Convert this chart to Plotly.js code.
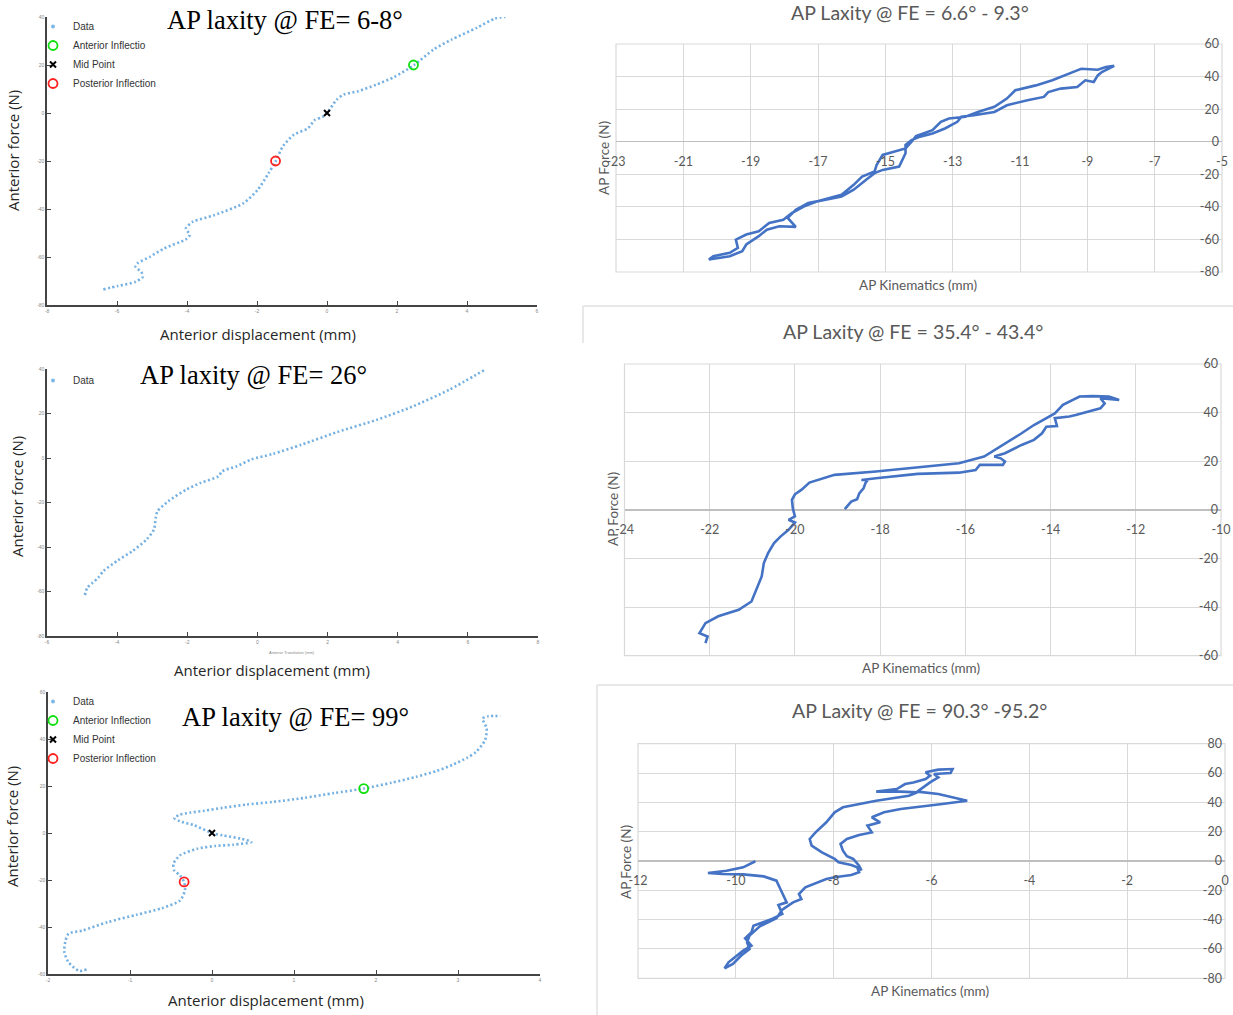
<!DOCTYPE html>
<html><head><meta charset="utf-8">
<script src="https://cdn.plot.ly/plotly-3.0.1.min.js"></script>
<style>html,body{margin:0;padding:0;background:#fff}#chart{width:1233px;height:1015px}</style>
</head><body><div id="chart"></div>
<script>
// ---------- Panel 1: AP laxity @ FE= 6-8° (MATLAB) ----------
const p1X = [-6.39,-5.98,-5.47,-5.26,-5.31,-5.47,-5.42,-5.06,-4.65,-4.03,-3.92,-4.03,-3.83,-3.21,-2.39,-1.98,-1.67,-1.47,-1.26,-0.95,-0.54,-0.34,-0.13,0,0.28,0.48,0.89,1.41,1.92,2.48,3.05,3.56,4.28,4.79,5.10];
const p1Y = [-73.5,-72.1,-70.3,-68.2,-66.2,-64.1,-62.7,-59.9,-56.4,-52.6,-50.8,-48.1,-45.3,-42.5,-37.6,-32.0,-25.1,-20.2,-13.9,-9.1,-6.3,-2.8,-1.7,0,5.6,7.7,9.1,11.8,15.0,19.9,26.5,30.6,35.5,39.3,40.1];
const p1AntX = [2.47], p1AntY = [20];
const p1MidX = [0], p1MidY = [0];
const p1PostX = [-1.47], p1PostY = [-20];
const p1XTicks = [-8,-6,-4,-2,0,2,4,6];
const p1YTicks = [-80,-60,-40,-20,0,20,40];

// ---------- Panel 2: AP laxity @ FE= 26° (MATLAB) ----------
const p2X = [-4.92,-4.85,-4.70,-4.54,-4.39,-3.98,-3.57,-3.16,-2.95,-2.90,-2.85,-2.54,-2.03,-1.62,-1.11,-1.01,-0.59,-0.18,0.43,1.26,2.28,3.41,4.43,5.46,6.48];
const p2Y = [-61.6,-58.3,-56.1,-53.8,-50.8,-46.0,-41.9,-36.6,-32.1,-26.9,-23.9,-19.4,-14.2,-11.2,-8.2,-6.0,-3.7,-0.7,1.8,6.0,11.7,17.2,23.2,30.6,39.6];
const p2XTicks = [-6,-4,-2,0,2,4,6,8];
const p2YTicks = [-80,-60,-40,-20,0,20,40];

// ---------- Panel 3: AP laxity @ FE= 99° (MATLAB) ----------
const p3X = [-1.53,-1.62,-1.75,-1.80,-1.79,-1.75,-1.58,-1.27,-0.92,-0.61,-0.39,-0.33,-0.34,-0.39,-0.46,-0.47,-0.39,-0.18,0.04,0.26,0.48,0.35,0.13,0,-0.22,-0.39,-0.46,-0.39,-0.26,-0.09,0.13,0.42,0.74,1.12,1.49,1.85,2.19,2.49,2.74,2.94,3.11,3.22,3.33,3.35,3.30,3.37,3.52];
const p3Y = [-58.1,-58.7,-55.0,-50.7,-46.4,-42.9,-41.5,-37.9,-34.8,-32.0,-28.7,-24.4,-20.9,-18.0,-15.9,-13.1,-9.5,-6.7,-5.5,-5.0,-3.8,-2.4,-1.0,0,3.3,5.0,6.4,7.8,8.7,9.5,10.7,12.1,13.2,14.9,17.0,18.9,21.4,23.9,26.4,29.1,32.0,34.5,39.5,44.5,48.7,49.7,49.7];
const p3AntX = [1.85], p3AntY = [18.9];
const p3MidX = [0], p3MidY = [0];
const p3PostX = [-0.34], p3PostY = [-20.8];
const p3XTicks = [-2,-1,0,1,2,3,4];
const p3YTicks = [-60,-40,-20,0,20,40,60];

// ---------- Panel 4: AP Laxity @ FE = 6.6° - 9.3° (Excel) ----------
const p4X = [-8.20,-8.57,-8.69,-8.81,-9.06,-9.30,-9.79,-10.16,-10.29,-10.78,-11.39,-11.76,-12.37,-12.74,-12.86,-13.23,-13.60,-13.97,-14.22,-14.40,-14.40,-14.59,-15.08,-15.32,-15.57,-15.94,-16.30,-16.80,-17.29,-17.66,-17.90,-17.66,-18.15,-18.52,-18.76,-19.13,-19.25,-19.62,-20.24,
  -20.11,-19.62,-19.38,-19.44,-19.13,-18.76,-18.45,-18.03,-17.78,-17.41,-17.04,-16.30,-15.94,-15.69,-15.32,-15.26,-15.08,-14.71,-14.40,-14.22,-14.09,-13.60,-13.35,-13.11,-12.62,-12.25,-11.76,-11.39,-11.14,-10.53,-10.04,-9.30,-9.18,-8.69,-8.45,-8.20];
const p4Y = [46.6,42.8,40.7,36.7,37.7,33.6,32.6,30.5,27.5,25.5,22.4,18.3,16.3,15.3,12.2,8.1,5.1,3.1,1.0,-2.0,-7.1,-15.3,-17.3,-19.3,-23.4,-29.5,-33.6,-35.6,-37.7,-41.8,-46.8,-52.3,-51.9,-54.0,-58.0,-63.1,-67.2,-70.3,-72.3,
  -70.3,-68.2,-65.2,-60.1,-57.0,-55.0,-49.9,-47.9,-43.8,-39.7,-36.7,-32.6,-26.5,-21.4,-18.3,-14.3,-8.1,-6.1,-4.1,0,3.5,7.1,12.2,14.3,15.3,18.3,21.4,26.5,31.6,34.6,37.7,43.8,44.8,44.2,45.8,46.6];
const p4XTicks = [-23,-21,-19,-17,-15,-13,-11,-9,-7,-5];
const p4YTicks = [-80,-60,-40,-20,0,20,40,60];

// ---------- Panel 5: AP Laxity @ FE = 35.4° - 43.4° (Excel) ----------
const p5X = [-18.83,-18.68,-18.54,-18.49,-18.39,-18.34,-18.29,-18.44,-18.10,-17.12,-16.15,-15.76,-15.66,-15.12,-15.07,-15.17,-15.32,-15.07,-14.68,-14.39,-14.20,-14.10,-13.85,-13.90,-13.56,-13.41,-12.83,-12.73,-12.83,-12.39,-12.63,-13.02,-13.32,-13.71,-13.90,-14.10,-14.39,-14.68,-15.17,-15.56,-16.15,-17.12,-18.10,-19.07,-19.66,-19.85,-20.00,-20.07,-20.05,-20.00,-20.15,-20.00,-20.15,-20.34,-20.49,-20.63,-20.73,-20.78,-20.88,-20.98,-21.02,-21.32,-21.80,-22.10,-22.20,-22.24,-22.05,-22.10];
const p5Y = [0.3,3.4,4.4,6.8,8.9,11.2,12.3,12.3,13.0,14.8,15.3,16.4,18.5,18.5,19.9,21.2,21.9,23.3,26.7,28.8,31.5,34.2,34.5,37.7,38.4,39.0,41.8,43.8,45.9,45.2,46.6,46.8,46.6,43.2,39.7,37.7,34.9,31.5,26.0,21.9,19.2,17.5,15.8,14.4,11.2,8.2,6.4,4.1,0.7,-2.7,-4.1,-5.2,-8.2,-11.0,-13.7,-17.8,-21.9,-27.4,-31.5,-35.6,-37.7,-41.1,-43.8,-46.6,-49.3,-50.7,-52.1,-54.8];
const p5XTicks = [-24,-22,-20,-18,-16,-14,-12,-10];
const p5YTicks = [-60,-40,-20,0,20,40,60];

// ---------- Panel 6: AP Laxity @ FE = 90.3° -95.2° (Excel) ----------
const p6X = [-9.60,-9.85,-10.19,-10.57,-10.28,-9.85,-9.43,-9.17,-9.09,-9.00,-8.96,-9.13,-9.05,-9.26,-9.64,-9.68,-9.81,-9.68,-9.85,-10.02,-10.15,-10.23,
  -10.06,-9.89,-9.72,-9.77,-9.72,-9.51,-9.34,-9.17,-9.05,-8.83,-8.66,-8.71,-8.58,-8.32,-8.15,-7.98,-7.64,-7.48,-7.52,-7.64,-7.90,-7.98,-8.24,-8.45,-8.49,-8.37,-8.15,-7.98,-7.81,-7.13,-6.46,-6.29,-6.63,-7.13,-6.71,-6.54,-6.37,-6.12,-6.03,-6.12,-5.86,-5.57,-5.61,-5.95,-5.86,-6.03,-6.20,-6.29,
  -5.86,-5.27,-5.78,-6.63,-6.97,-7.22,-7.05,-7.31,-7.22,-7.48,-7.73,-7.86,-7.81,-7.73,-7.60,-7.48,-7.43];
const p6Y = [-0.2,-4.3,-6.6,-8.2,-8.9,-9.1,-10.5,-13.4,-19.1,-25.9,-28.2,-30.0,-36.1,-39.5,-44.1,-48.6,-52.7,-57.7,-61.1,-65.7,-69.1,-73.2,
  -70.2,-64.5,-60.0,-55.5,-50.9,-44.5,-41.8,-39.1,-33.2,-28.2,-25.9,-22.5,-18.0,-14.5,-12.3,-11.1,-9.5,-7.7,-4.3,-2.7,-0.9,1.4,5.9,10.5,15.0,19.5,26.4,33.2,36.6,41.1,44.5,46.8,47.3,47.3,49.1,52.5,53.6,55.9,58.2,60.5,62.3,62.7,60.0,59.3,57.0,53.6,49.1,47.3,
  45.7,41.1,38.9,35.5,33.2,29.8,26.4,24.1,19.5,17.7,15.0,11.6,7.0,3.2,1.4,-3.2,-6.6];
const p6XTicks = [-12,-10,-8,-6,-4,-2,0];
const p6YTicks = [-80,-60,-40,-20,0,20,40,60,80];

// ---------- layout helpers (pixel -> paper) ----------
const W = 1233, H = 1015;
const px = v => v / W;
const py = v => 1 - v / H;
const dX = (a, b) => [px(a), px(b)];
const dY = (top, bottom) => [py(bottom), py(top)];
const lbl = arr => arr.map(v => String(v));   // hyphen-minus labels, as in the source

const matlabBlue = 'rgba(70,150,215,0.75)';
const excelBlue = '#4472C4';
const grid = '#d9d9d9';
const exFont = 'Lato, "Liberation Sans", sans-serif';

function mAxis(domain, tickvals, anchor) {
  return {domain, range: [tickvals[0], tickvals[tickvals.length - 1]], tickvals, ticktext: lbl(tickvals),
    ticks: 'inside', ticklen: 4, tickwidth: 1, tickcolor: '#444',
    showline: true, linecolor: '#444', linewidth: 1.6,
    showgrid: false, zeroline: false, anchor,
    tickfont: {family: '"Liberation Sans", sans-serif', size: 5, color: '#888'}};
}
function exX(domain, tickvals, yDomain, yTicks) {
  const y0 = yTicks[0], y1 = yTicks[yTicks.length - 1];
  const frac = (0 - y0) / (y1 - y0);
  return {domain, range: [tickvals[0], tickvals[tickvals.length - 1]], tickvals, ticktext: lbl(tickvals),
    anchor: 'free', position: yDomain[0] + frac * (yDomain[1] - yDomain[0]),
    showgrid: true, gridcolor: grid, gridwidth: 1, zeroline: false, showline: false,
    ticks: 'outside', ticklen: 8, tickcolor: 'rgba(0,0,0,0)', ticklabeloverflow: 'allow',
    tickfont: {family: exFont, size: 12.5, color: '#595959'}};
}
function exY(domain, tickvals, anchor) {
  return {domain, range: [tickvals[0], tickvals[tickvals.length - 1]], tickvals, ticktext: lbl(tickvals),
    side: 'right', anchor,
    showgrid: true, gridcolor: grid, gridwidth: 1,
    zeroline: true, zerolinecolor: '#bfbfbf', zerolinewidth: 1.5, showline: false,
    ticklabelposition: 'inside', ticks: '', ticklabeloverflow: 'allow',
    tickfont: {family: exFont, size: 12.5, color: '#595959'}};
}

// domains
const d1x = dX(47, 537), d1y = dY(17, 305);
const d2x = dX(47, 538), d2y = dY(369, 636);
const d3x = dX(48, 540), d3y = dY(692, 974);
const d4x = dX(616, 1222), d4y = dY(44, 272);
const d5x = dX(624.5, 1221), d5y = dY(364, 655.7);
const d6x = dX(638, 1225), d6y = dY(743.7, 978.3);

const dataLine = {color: matlabBlue, width: 2.6, dash: '2px,2.5px', shape: 'spline', smoothing: 0.7};
const exLine = {color: excelBlue, width: 2.6};

function legendData(lg, xa, ya) {
  return {x: [null], y: [null], xaxis: xa, yaxis: ya, mode: 'markers', name: 'Data', legend: lg,
    marker: {size: 4, color: 'rgba(90,165,225,0.8)'}, hoverinfo: 'skip'};
}

const traces = [
  // panel 1
  {x: p1X, y: p1Y, xaxis: 'x', yaxis: 'y', mode: 'lines', line: dataLine, showlegend: false, name: 'Data'},
  legendData('legend', 'x', 'y'),
  {x: p1AntX, y: p1AntY, xaxis: 'x', yaxis: 'y', mode: 'markers', name: 'Anterior Inflectio', legend: 'legend',
    marker: {symbol: 'circle-open', size: 9, color: '#10e010', line: {width: 1.8}}},
  {x: p1MidX, y: p1MidY, xaxis: 'x', yaxis: 'y', mode: 'markers', name: 'Mid Point', legend: 'legend',
    marker: {symbol: 'x-thin-open', size: 6, color: '#000', line: {width: 2, color: '#000'}}},
  {x: p1PostX, y: p1PostY, xaxis: 'x', yaxis: 'y', mode: 'markers', name: 'Posterior Inflection', legend: 'legend',
    marker: {symbol: 'circle-open', size: 9, color: '#ff2020', line: {width: 1.8}}},
  // panel 2
  {x: p2X, y: p2Y, xaxis: 'x2', yaxis: 'y2', mode: 'lines', line: dataLine, showlegend: false, name: 'Data'},
  legendData('legend2', 'x2', 'y2'),
  // panel 3
  {x: p3X, y: p3Y, xaxis: 'x3', yaxis: 'y3', mode: 'lines', line: dataLine, showlegend: false, name: 'Data'},
  legendData('legend3', 'x3', 'y3'),
  {x: p3AntX, y: p3AntY, xaxis: 'x3', yaxis: 'y3', mode: 'markers', name: 'Anterior Inflection', legend: 'legend3',
    marker: {symbol: 'circle-open', size: 9, color: '#10e010', line: {width: 1.8}}},
  {x: p3MidX, y: p3MidY, xaxis: 'x3', yaxis: 'y3', mode: 'markers', name: 'Mid Point', legend: 'legend3',
    marker: {symbol: 'x-thin-open', size: 6, color: '#000', line: {width: 2, color: '#000'}}},
  {x: p3PostX, y: p3PostY, xaxis: 'x3', yaxis: 'y3', mode: 'markers', name: 'Posterior Inflection', legend: 'legend3',
    marker: {symbol: 'circle-open', size: 9, color: '#ff2020', line: {width: 1.8}}},
  // excel panels
  {x: p4X, y: p4Y, xaxis: 'x4', yaxis: 'y4', mode: 'lines', line: exLine, showlegend: false},
  {x: p5X, y: p5Y, xaxis: 'x5', yaxis: 'y5', mode: 'lines', line: exLine, showlegend: false},
  {x: p6X, y: p6Y, xaxis: 'x6', yaxis: 'y6', mode: 'lines', line: exLine, showlegend: false}
];

const legendBase = {xanchor: 'left', yanchor: 'top', bgcolor: 'rgba(0,0,0,0)', borderwidth: 0,
  font: {family: '"Liberation Sans", Arial, sans-serif', size: 10, color: '#333'}, tracegroupgap: 0, itemwidth: 30};

const serif = {family: '"Liberation Serif", "Times New Roman", serif', size: 26.5, color: '#000'};
const mTitle = {family: '"Open Sans", sans-serif', size: 15, color: '#262626'};
const exTitle = {family: exFont, size: 19.5, color: '#595959'};
const exAx = {family: exFont, size: 13.5, color: '#595959'};

function ann(text, x, y, font, angle) {
  return {text, x: px(x), y: py(y), xref: 'paper', yref: 'paper', showarrow: false,
    xanchor: 'center', yanchor: 'middle', font, textangle: angle || 0};
}

const annotations = [
  ann('AP laxity @ FE= 6-8°', 285, 20, serif),
  ann('AP laxity @ FE= 26°', 253, 375, serif),
  ann('AP laxity @ FE= 99°', 295, 717, serif),
  ann('Anterior displacement (mm)', 258, 334, mTitle),
  ann('Anterior displacement (mm)', 272, 670, mTitle),
  ann('Anterior displacement (mm)', 266, 1000, mTitle),
  ann('Anterior force (N)', 13, 151, mTitle, -90),
  ann('Anterior force (N)', 17, 497, mTitle, -90),
  ann('Anterior force (N)', 12, 827, mTitle, -90),
  ann('Anterior Translation (mm)', 292, 652, {family: '"Liberation Sans", sans-serif', size: 4, color: '#888'}),
  ann('AP Laxity @ FE = 6.6° - 9.3°', 910, 12, exTitle),
  ann('AP Laxity @ FE = 35.4° - 43.4°', 913, 331, exTitle),
  ann('AP Laxity @ FE = 90.3° -95.2°', 919, 710, exTitle),
  ann('AP Kinematics (mm)', 918, 285, exAx),
  ann('AP Kinematics (mm)', 921, 668, exAx),
  ann('AP Kinematics (mm)', 930, 991, exAx),
  ann('AP Force (N)', 604, 158, exAx, -90),
  ann('AP Force (N)', 613, 509, exAx, -90),
  ann('AP Force (N)', 626, 862, exAx, -90)
];

function frame(n) {
  return {type: 'rect', xref: 'x' + n + ' domain', yref: 'y' + n + ' domain', x0: 0, x1: 1, y0: 0, y1: 1,
    line: {color: grid, width: 1.2}, layer: 'below'};
}
function pline(x0, y0, x1, y1) {
  return {type: 'line', xref: 'paper', yref: 'paper', x0: px(x0), y0: py(y0), x1: px(x1), y1: py(y1),
    line: {color: '#e0e0e0', width: 1.5}};
}

const layout = {
  width: W, height: H, margin: {l: 0, r: 0, t: 0, b: 0},
  paper_bgcolor: '#fff', plot_bgcolor: 'rgba(0,0,0,0)',
  showlegend: true,
  xaxis: mAxis(d1x, p1XTicks, 'y'), yaxis: mAxis(d1y, p1YTicks, 'x'),
  xaxis2: mAxis(d2x, p2XTicks, 'y2'), yaxis2: mAxis(d2y, p2YTicks, 'x2'),
  xaxis3: mAxis(d3x, p3XTicks, 'y3'), yaxis3: mAxis(d3y, p3YTicks, 'x3'),
  xaxis4: exX(d4x, p4XTicks, d4y, p4YTicks), yaxis4: exY(d4y, p4YTicks, 'x4'),
  xaxis5: exX(d5x, p5XTicks, d5y, p5YTicks), yaxis5: exY(d5y, p5YTicks, 'x5'),
  xaxis6: exX(d6x, p6XTicks, d6y, p6YTicks), yaxis6: exY(d6y, p6YTicks, 'x6'),
  legend: Object.assign({x: px(33), y: py(12)}, legendBase),
  legend2: Object.assign({x: px(33), y: py(366)}, legendBase),
  legend3: Object.assign({x: px(33), y: py(687)}, legendBase),
  annotations,
  shapes: [frame(4), frame(5), frame(6),
    pline(583, 306, 1233, 306), pline(583, 306, 583, 343),
    pline(597, 685, 1233, 685), pline(597, 685, 597, 1015)]
};

Plotly.newPlot('chart', traces, layout, {staticPlot: true, displayModeBar: false});
</script></body></html>
